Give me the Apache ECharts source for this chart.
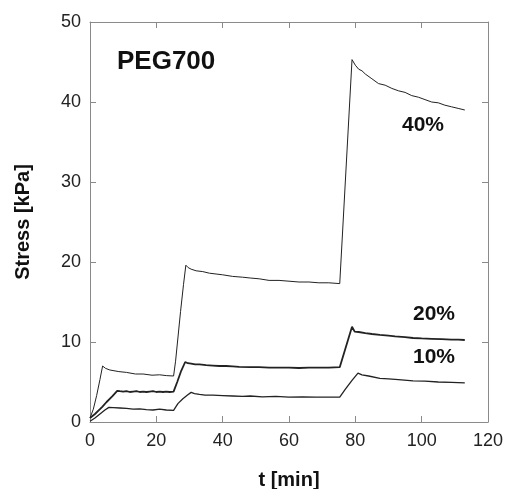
<!DOCTYPE html>
<html lang="en">

<head>
    <meta charset="UTF-8">
    <title>PEG700 Stress Relaxation</title>
    <script src="https://cdn.jsdelivr.net/npm/echarts@6.0.0/dist/echarts.min.js"></script>
    <style>
        body {
            margin: 0;
            background-color: #ffffff;
        }

        #chart {
            width: 507px;
            height: 489px;
        }
    </style>
</head>

<body>
    <div id="chart"></div>
    <script>
        var myChart = echarts.init(document.getElementById('chart'));

        // t [min], stress [kPa]
        var t40 = [0, 1, 2, 3, 3.8, 4.7, 6, 8.7, 11, 13.7, 16, 18.7, 21, 23, 25.2, 25.8, 26.5, 27.3, 28.2, 28.9,
            29.6, 30.5, 32, 34, 36, 38, 40, 43, 46, 48.3, 51, 54, 57, 60, 63, 66, 69, 72, 75.3,
            79, 80, 81, 82, 83, 85, 87, 89, 91, 93, 95, 97, 99, 101, 103, 105, 107, 109, 111, 113];
        var s40 = [0.5, 1.6, 3.3, 5.3, 7.0, 6.7, 6.5, 6.3, 6.2, 6.0, 6.0, 5.85, 5.9, 5.8, 5.75, 7.6, 10.5, 13.8, 17.2, 19.6,
            19.3, 19.1, 18.9, 18.8, 18.6, 18.5, 18.4, 18.2, 18.1, 18.0, 17.9, 17.7, 17.7, 17.6, 17.5, 17.5, 17.4, 17.4, 17.3,
            45.3, 44.6, 44.1, 43.9, 43.5, 42.9, 42.3, 42.1, 41.7, 41.4, 41.2, 40.8, 40.6, 40.3, 40.0, 39.9, 39.6, 39.4, 39.2, 39.0];

        var t20 = [0, 1.5, 3, 3.7, 5, 6.7, 8.2, 9, 10, 11, 12, 13, 14, 15, 16, 17, 18, 19, 20, 21, 22, 23, 24, 25.2,
            26.3, 27.5, 28.7, 29.5, 30.5, 31.7, 33, 35, 37, 39, 41, 43, 45, 48.3, 51, 54, 57, 60, 63, 66, 69, 72, 75.3,
            79, 79.8, 81, 83, 85, 87.4, 90, 92, 95, 97.4, 100, 103, 106, 109, 111, 113];
        var s20 = [0.5, 1.0, 1.6, 1.9, 2.5, 3.2, 3.9, 3.85, 3.8, 3.85, 3.75, 3.8, 3.85, 3.75, 3.8, 3.75, 3.8, 3.85, 3.75, 3.8, 3.75, 3.8, 3.75, 3.8,
            5.0, 6.4, 7.5, 7.35, 7.3, 7.2, 7.2, 7.1, 7.05, 7.0, 7.0, 6.95, 6.9, 6.85, 6.85, 6.8, 6.8, 6.8, 6.75, 6.8, 6.8, 6.8, 6.85,
            11.9, 11.3, 11.25, 11.1, 11.0, 10.9, 10.8, 10.7, 10.6, 10.5, 10.45, 10.4, 10.35, 10.3, 10.3, 10.25];

        var t10 = [0, 1.5, 3, 4.5, 5.7, 7, 9, 11, 13, 15, 17, 19, 21, 23, 25.2, 26.5, 28, 29.5, 30.5, 31.5, 33, 34.7,
            37, 40, 43, 46, 48.3, 52, 56, 60, 64, 68, 72, 75.3, 77, 79, 80.8, 82, 84, 87.4, 90, 93, 97.4, 101, 105, 109, 113];
        var s10 = [0.1, 0.5, 1.0, 1.5, 1.83, 1.8, 1.75, 1.7, 1.6, 1.65, 1.55, 1.5, 1.6, 1.5, 1.45, 2.3, 2.9, 3.4, 3.7, 3.55, 3.45, 3.37,
            3.35, 3.3, 3.25, 3.2, 3.25, 3.15, 3.2, 3.1, 3.15, 3.1, 3.1, 3.1, 4.1, 5.2, 6.1, 5.9, 5.75, 5.45, 5.4, 5.3, 5.15, 5.1, 5.0, 4.95, 4.9];

        var xTicks = [0, 20, 40, 60, 80, 100, 120];
        var yTicks = [0, 10, 20, 30, 40, 50];
        var labels = ['PEG700', '40%', '20%', '10%'];

        function pairs(ts, ss) {
            return ts.map(function (t, i) { return [t, ss[i]]; });
        }

        var axisLine = { show: true, onZero: false, lineStyle: { color: '#8a8a8a', width: 1 } };
        var axisTick = { show: true, inside: true, length: 6, lineStyle: { color: '#8a8a8a', width: 1 } };
        var labelStyle = { color: '#222', fontSize: 18, fontFamily: 'Liberation Sans, Arial, sans-serif' };
        var nameStyle = { color: '#111', fontSize: 20, fontWeight: 'bold', fontFamily: 'Liberation Sans, Arial, sans-serif' };

        var option = {
            backgroundColor: '#ffffff',
            animation: false,
            grid: { left: 90, right: 19, top: 22, bottom: 67, outerBoundsMode: 'none', containLabel: false },
            xAxis: [{
                type: 'value',
                min: xTicks[0],
                max: xTicks[xTicks.length - 1],
                interval: 20,
                name: 't [min]',
                nameLocation: 'middle',
                nameGap: 48,
                nameTextStyle: nameStyle,
                axisLine: axisLine,
                axisTick: axisTick,
                splitLine: { show: false },
                axisLabel: Object.assign({ margin: 10 }, labelStyle)
            }, {
                type: 'value',
                position: 'top',
                min: xTicks[0],
                max: xTicks[xTicks.length - 1],
                interval: 20,
                axisLine: axisLine,
                axisTick: axisTick,
                splitLine: { show: false },
                axisLabel: { show: false }
            }],
            yAxis: [{
                type: 'value',
                min: yTicks[0],
                max: yTicks[yTicks.length - 1],
                interval: 10,
                name: 'Stress [kPa]',
                nameLocation: 'middle',
                nameGap: 57,
                nameRotate: 90,
                nameTextStyle: nameStyle,
                axisLine: axisLine,
                axisTick: axisTick,
                splitLine: { show: false },
                axisLabel: Object.assign({ margin: 9 }, labelStyle)
            }, {
                type: 'value',
                position: 'right',
                min: yTicks[0],
                max: yTicks[yTicks.length - 1],
                interval: 10,
                axisLine: axisLine,
                axisTick: axisTick,
                splitLine: { show: false },
                axisLabel: { show: false }
            }],
            graphic: [
                { type: 'text', left: 117, top: 49, style: { text: labels[0], fill: '#111', font: 'bold 26px "Liberation Sans", Arial, sans-serif' } },
                { type: 'text', left: 402, top: 115, style: { text: labels[1], fill: '#111', font: 'bold 21px "Liberation Sans", Arial, sans-serif' } },
                { type: 'text', left: 413, top: 304, style: { text: labels[2], fill: '#111', font: 'bold 21px "Liberation Sans", Arial, sans-serif' } },
                { type: 'text', left: 413, top: 347, style: { text: labels[3], fill: '#111', font: 'bold 21px "Liberation Sans", Arial, sans-serif' } }
            ],
            series: [
                { name: '40%', data: pairs(t40, s40), lineWidth: 1 },
                { name: '20%', data: pairs(t20, s20), lineWidth: 1.8 },
                { name: '10%', data: pairs(t10, s10), lineWidth: 1.3 }
            ].map(function (s) {
                return {
                    name: s.name,
                    type: 'line',
                    data: s.data,
                    showSymbol: false,
                    symbol: 'none',
                    lineStyle: { color: '#222', width: s.lineWidth }
                };
            })
        };

        myChart.setOption(option);
    </script>
</body>

</html>
